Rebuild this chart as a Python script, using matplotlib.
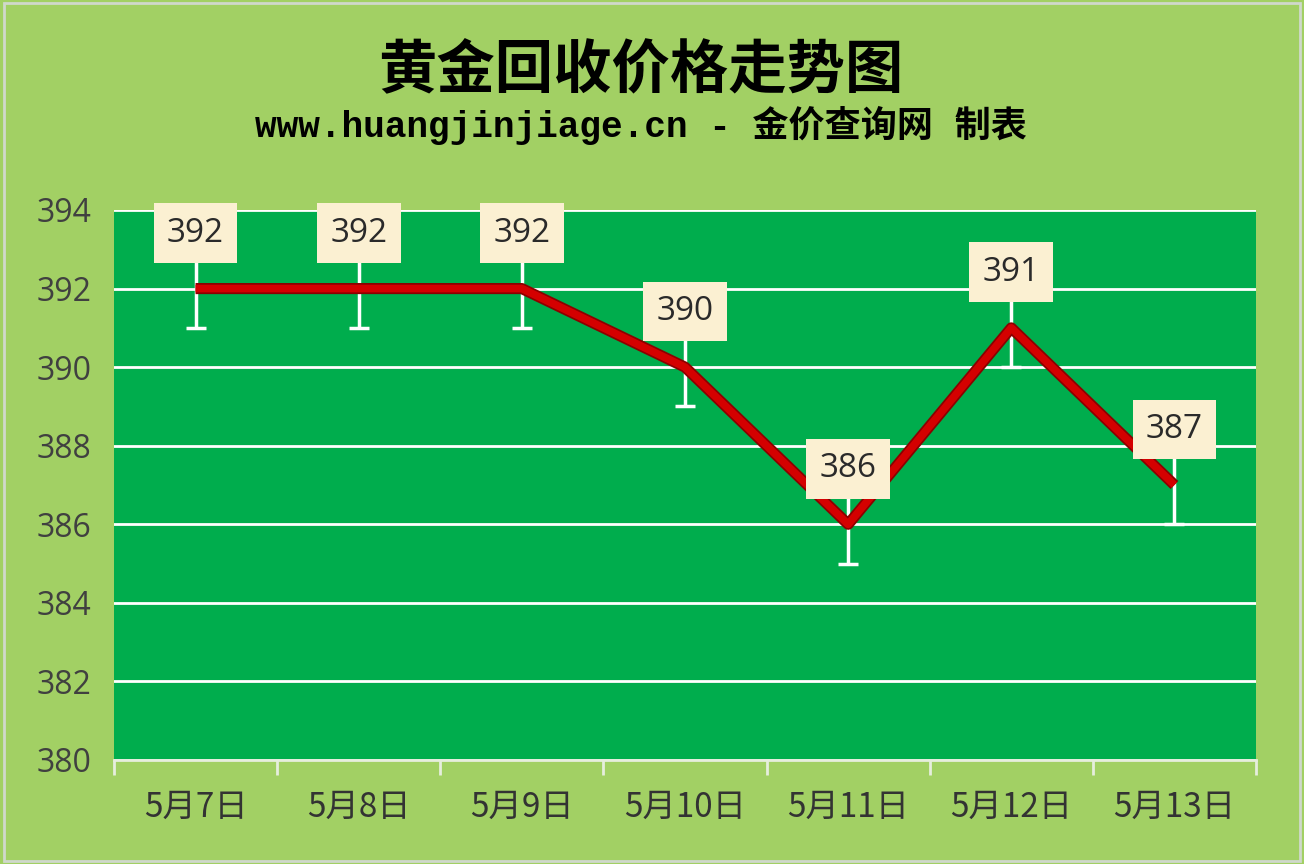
import matplotlib.pyplot as plt
from matplotlib.patches import Rectangle

plt.rcParams['font.family'] = ['Noto Sans CJK SC', 'DejaVu Sans']

# data
dates = ['5月7日', '5月8日', '5月9日', '5月10日', '5月11日', '5月12日', '5月13日']
prices = [392, 392, 392, 390, 386, 391, 387]
err = [1, 1, 1, 1, 1, 1, 1]
y_ticks = [380, 382, 384, 386, 388, 390, 392, 394]

fig = plt.figure(figsize=(13.04, 8.64), dpi=100)
fig.patch.set_facecolor('#a2d064')
fig.patches.append(Rectangle((0.003, 0.004), 0.994, 0.992, transform=fig.transFigure,
                             fill=False, edgecolor='#d0d8cc', linewidth=2))

ax = fig.add_axes([114 / 1304, 1 - 760 / 864, (1256 - 114) / 1304, (760 - 210) / 864])
ax.set_facecolor('#00ad4d')

x = list(range(len(dates)))
ax.set_xlim(-0.5, len(dates) - 0.5)
ax.set_ylim(380, 394)
ax.set_yticks(y_ticks)
ax.grid(axis='y', color='white', linewidth=2)
ax.set_axisbelow(True)

ax.errorbar(x, prices, yerr=err, fmt='none', ecolor='white', elinewidth=2.5,
            capsize=7, capthick=2.5, zorder=2)
ax.plot(x, prices, color='#8b0000', linewidth=8, solid_capstyle='butt', zorder=3)
ax.plot(x, prices, color='#d40000', linewidth=5.5, solid_capstyle='butt', zorder=4)

for xi, p in zip(x, prices):
    ax.annotate(str(p), (xi, p), xytext=(0, 40), textcoords='offset points',
                ha='center', va='center', fontsize=24, color='#2a2a2a',
                family=['Open Sans', 'DejaVu Sans'], zorder=5,
                bbox=dict(boxstyle='square,pad=0.4', facecolor='#fbf0d2',
                          edgecolor='none'))

for s in ['top', 'right', 'left']:
    ax.spines[s].set_visible(False)
ax.spines['bottom'].set_color('#e6eedd')
ax.spines['bottom'].set_linewidth(2)

ax.set_xticks([i - 0.5 for i in range(len(dates) + 1)], minor=False)
ax.set_xticklabels([])
ax.tick_params(axis='x', length=11, width=2, color='#e6eedd', direction='out')
for xi, d in zip(x, dates):
    ax.text(xi, 378.8, d, ha='center', va='center', fontsize=24, color='#333333')
ax.tick_params(axis='y', length=0, labelsize=23, labelcolor='#404040', pad=16)
for lab in ax.get_yticklabels():
    lab.set_family(['Open Sans', 'DejaVu Sans'])

fig.text(0.4916, 0.918, '黄金回收价格走势图', ha='center', va='center', fontsize=42,
         fontweight='bold', color='black')
fig.text(0.4916, 0.855, 'www.huangjinjiage.cn - 金价查询网 制表', ha='center', va='center',
         fontsize=26, fontweight='bold', color='black',
         family=['Liberation Mono', 'Noto Sans CJK SC'])

fig.savefig('out.png', dpi=100, facecolor=fig.get_facecolor())
